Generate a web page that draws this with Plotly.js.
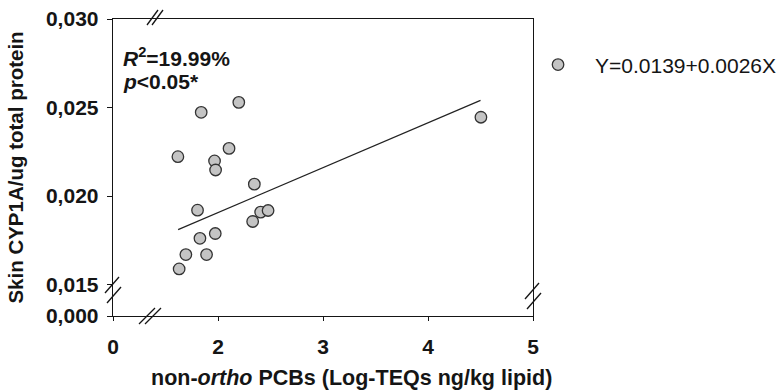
<!DOCTYPE html>
<html>
<head>
<meta charset="utf-8">
<script src="https://cdn.plot.ly/plotly-3.0.1.min.js"></script>
<style>
html,body{margin:0;padding:0;background:#fff;}
#chart{width:780px;height:391px;}
</style>
</head>
<body>
<div id="chart"></div>
<script>
// Data
var pcbX = [1.618, 1.840, 2.198, 2.105, 1.967, 1.977, 2.346, 1.805, 2.330, 2.406, 2.477, 1.974, 1.828, 1.694, 1.891, 1.630, 4.504];
var cypY = [0.02222, 0.02473, 0.02529, 0.02269, 0.02198, 0.02147, 0.02067, 0.01920, 0.01856, 0.01909, 0.01918, 0.01788, 0.01761, 0.01669, 0.01669, 0.01588, 0.02445];
var fitX = [1.62, 4.50];
var fitY = [0.0181, 0.0254];
var seriesName = "Y=0.0139+0.0026X";
var xTickVals = [1, 2, 3, 4, 5];
var xTickText = ["0", "2", "3", "4", "5"];
var yTickVals = [0.01322, 0.015, 0.020, 0.025, 0.030];
var yTickText = ["0,000", "0,015", "0,020", "0,025", "0,030"];
var statsLine1 = "<b><i>R</i><sup>2</sup>=19.99%</b>";
var statsLine2 = "<b><i>p</i>&lt;0.05*</b>";

var FONT = "Liberation Sans, Arial, sans-serif";
var INK = "#151515";

var traces = [
  {
    x: fitX, y: fitY, type: "scatter", mode: "lines",
    line: {color: "#222", width: 1.2}, showlegend: false, hoverinfo: "skip"
  },
  {
    x: pcbX, y: cypY, type: "scatter", mode: "markers", name: seriesName,
    marker: {size: 11.5, color: "#c4c4c4", line: {color: "#333", width: 1.3}}
  }
];

// break marks "//" in paper coordinates (plot area px: x 113..533, y 19..316)
function px2x(p){ return (p - 113) / 420; }
function py2y(p){ return (316 - p) / 297; }
function slash(cx, cy, w, h){
  return {type: "line", xref: "paper", yref: "paper",
    x0: px2x(cx - w/2), y0: py2y(cy + h/2), x1: px2x(cx + w/2), y1: py2y(cy - h/2),
    line: {color: INK, width: 1.3}};
}
var shapes = [
  slash(152.5, 17.5, 11, 15), slash(157.5, 17.5, 11, 15),
  slash(147, 316, 16, 16), slash(153, 316, 16, 16),
  slash(112, 285, 14, 16), slash(114, 295, 14, 16),
  slash(532, 291, 14, 16), slash(534, 301, 14, 16)
];

var layout = {
  width: 780, height: 391,
  margin: {l: 113, r: 247, t: 19, b: 75, autoexpand: false},
  paper_bgcolor: "#fff", plot_bgcolor: "#fff",
  font: {family: FONT, color: INK, size: 20},
  showlegend: true,
  legend: {
    xref: "container", yref: "container", x: 0.668, y: 0.834, xanchor: "left", yanchor: "middle",
    itemwidth: 64, font: {family: FONT, size: 21, color: INK}, bgcolor: "rgba(0,0,0,0)"
  },
  xaxis: {
    range: [1, 5], tickmode: "array", tickvals: xTickVals, ticktext: xTickText,
    showgrid: false, zeroline: false, showline: true, linecolor: INK, linewidth: 1.3,
    mirror: true, ticks: "outside", ticklen: 4, tickcolor: INK, ticklabelstandoff: 7,
    tickfont: {family: FONT, size: 21, color: INK, weight: "bold"}
  },
  yaxis: {
    range: [0.01322, 0.030], tickmode: "array", tickvals: yTickVals, ticktext: yTickText,
    showgrid: false, zeroline: false, showline: true, linecolor: INK, linewidth: 1.3,
    mirror: true, ticks: "outside", ticklen: 5, tickcolor: INK, ticklabelstandoff: 4,
    tickfont: {family: FONT, size: 21, color: INK, weight: "bold"},
    title: {text: "<b>Skin CYP1A/ug total protein</b>", standoff: 16,
      font: {family: FONT, size: 20.5, color: INK}}
  },
  shapes: shapes,
  annotations: [
    {xref: "paper", yref: "paper", x: px2x(121), y: py2y(57), xanchor: "left", yanchor: "middle",
     align: "left", showarrow: false, text: statsLine1,
     font: {family: FONT, size: 21, color: INK}},
    {xref: "paper", yref: "paper", x: px2x(121), y: py2y(81), xanchor: "left", yanchor: "middle",
     align: "left", showarrow: false, text: statsLine2,
     font: {family: FONT, size: 21, color: INK}},
    {xref: "paper", yref: "paper", x: px2x(351), y: py2y(378), xanchor: "center", yanchor: "middle",
     showarrow: false, text: "<b>non-<i>ortho</i> PCBs (Log-TEQs ng/kg lipid)</b>",
     font: {family: FONT, size: 21.5, color: INK}}
  ]
};

Plotly.newPlot("chart", traces, layout, {displayModeBar: false, staticPlot: true});
</script>
</body>
</html>
